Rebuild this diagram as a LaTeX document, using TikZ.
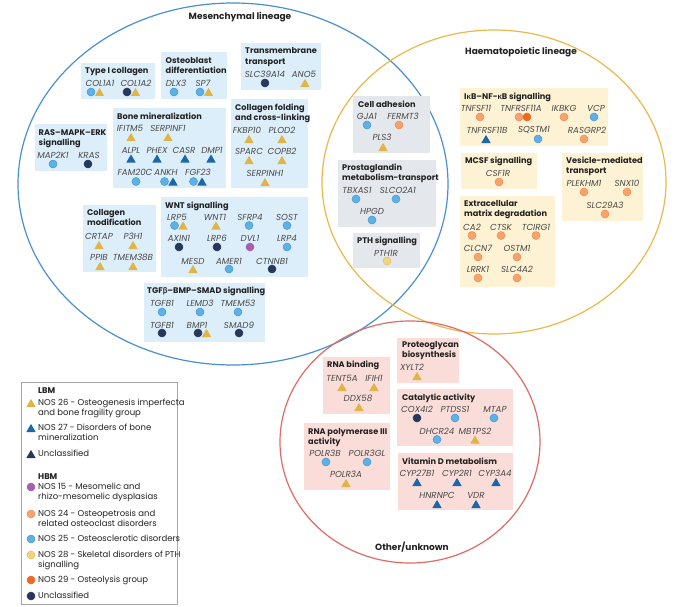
\documentclass[tikz,border=0pt]{standalone}
\usepackage{fontspec}
\setmainfont{Poppins}
\newfontfamily\grk{Lato}
\usetikzlibrary{shapes.geometric,fit}
\definecolor{blueline}{HTML}{4A90D0}
\definecolor{yelline}{HTML}{E9B949}
\definecolor{redline}{HTML}{E06A66}
\definecolor{boxblue}{HTML}{DCEEFA}
\definecolor{boxgray}{HTML}{E4E7EB}
\definecolor{boxyel}{HTML}{FDF2D3}
\definecolor{boxpink}{HTML}{FADDD8}
\definecolor{lbcf}{HTML}{5DB1E6}
\definecolor{lbcd}{HTML}{4398D3}
\definecolor{navyc}{HTML}{26385C}
\definecolor{purplec}{HTML}{A55FAE}
\definecolor{orangef}{HTML}{F7A36B}
\definecolor{oranged}{HTML}{EE8C55}
\definecolor{dorangec}{HTML}{EC6A25}
\definecolor{pyelf}{HTML}{F3D37F}
\definecolor{pyeld}{HTML}{E4BE5A}
\definecolor{ytric}{HTML}{E1B545}
\definecolor{btric}{HTML}{1B67A9}
\definecolor{ntric}{HTML}{27395C}
\definecolor{genec}{HTML}{4A4A4A}
\definecolor{ttlc}{HTML}{222222}
\newcounter{nn}
\newcommand\gb{{\grk β}}
\newcommand\gk{{\grk κ}}
\newcommand\Gn[3]{\stepcounter{nn}\node[gene] (g\arabic{nn}) at (#2,#3) {#1};}
\newcommand\Mk[3]{\stepcounter{nn}\node[#1] (m\arabic{nn}) at (#2,#3) {};}
\newcommand\Tt[4]{\node[ttl] (#1) at (#2,{#3-4.6}) {\strut #4};}
\newcommand\Lg[3]{\stepcounter{nn}\node[legt] (l\arabic{nn}) at (#1,{#2-4.3}) {\strut #3};}
\tikzset{
  gene/.style={font=\itshape\fontsize{8.7}{9}\selectfont, text=genec, inner sep=0},
  ttl/.style={font=\bfseries\fontsize{8.2}{10.7}\selectfont, text=ttlc, inner sep=0, anchor=north west, align=left},
  legt/.style={font=\fontsize{8.5}{10}\selectfont, text=ttlc, inner sep=0, anchor=north west, align=left},
  lin/.style={font=\bfseries\fontsize{9}{11}\selectfont, text=ttlc, inner sep=0},
  bx/.style={inner sep=0, draw=none},
  bb/.style={bx, fill=boxblue},
  bg/.style={bx, fill=boxgray},
  by/.style={bx, fill=boxyel},
  bp/.style={bx, fill=boxpink},
  dot/.style={circle, inner sep=0, minimum size=8pt, line width=0.5pt},
  lbc/.style={dot, fill=lbcf, draw=lbcd},
  nvc/.style={dot, fill=navyc, draw=navyc},
  ppc/.style={dot, fill=purplec, draw=purplec},
  orc/.style={dot, fill=orangef, draw=oranged},
  doc/.style={dot, fill=dorangec, draw=dorangec},
  pyc/.style={dot, fill=pyelf, draw=pyeld},
  tri/.style={regular polygon, regular polygon sides=3, minimum size=10.8pt, inner sep=0, yshift=-1.3pt},
  ytr/.style={tri, fill=ytric},
  btr/.style={tri, fill=btric},
  ntr/.style={tri, fill=ntric},
}
\begin{document}
\begin{tikzpicture}[x=1pt,y=-1pt]
\useasboundingbox[fill=white] (0,0) rectangle (685,607);
% lineage ellipses
\draw[blueline, line width=1.2pt] (233,184) ellipse [x radius=215, y radius=181];
\draw[yelline, line width=1.2pt] (494,182) ellipse [x radius=172, y radius=152];
\draw[redline, line width=1.2pt] (410,442) ellipse [x radius=130, y radius=121];
\node[lin] (mesl) at (240,17) {Mesenchymal lineage};
\node[lin] (haeml) at (521,52) {Haematopoietic lineage};
\node[lin] (othl) at (412,547) {Other/unknown};

% ---------- Mesenchymal boxes ----------
\node[bb, fit={(81,63) (155,99)}] (b1) {};
\Tt{t1}{85}{70.7}{Type I collagen}
\Gn{COL1A1}{100}{83} \Mk{lbc}{91}{92} \Mk{ytr}{99.5}{92}
\Gn{COL1A2}{136}{83} \Mk{nvc}{127}{92} \Mk{ytr}{135.5}{92}

\node[bb, fit={(161,52) (227,99)}] (b2) {};
\Tt{t2}{165.5}{60}{Osteoblast\\differentiation}
\Gn{DLX3}{176}{83} \Mk{lbc}{174}{92}
\Gn{SP7}{203}{83} \Mk{lbc}{200}{92} \Mk{ytr}{208.5}{92}

\node[bb, fit={(241,43) (321,90)}] (b3) {};
\Tt{t3}{245}{50.7}{Transmembrane\\transport}
\Gn{SLC39A14}{265}{74} \Mk{nvc}{265}{83}
\Gn{ANO5}{304}{74} \Mk{ytr}{305}{83}

\node[bb, fit={(35,124) (107,171)}] (b4) {};
\Tt{t4}{38.5}{132}{RAS–MAPK–ERK\\signalling}
\Gn{MAP2K1}{53}{155} \Mk{lbc}{53}{164}
\Gn{KRAS}{89}{155} \Mk{nvc}{88}{164}

\node[bb, fit={(113,108) (226,188)}] (b5) {};
\Tt{t5}{117}{116}{Bone mineralization}
\Gn{IFITM5}{130}{128} \Mk{ytr}{131}{137}
\Gn{SERPINF1}{168}{128} \Mk{ytr}{168}{137}
\Gn{ALPL}{131}{150} \Mk{btr}{131}{158.5}
\Gn{PHEX}{157}{150} \Mk{btr}{157}{158.5}
\Gn{CASR}{184}{150} \Mk{btr}{185}{158.5}
\Gn{DMP1}{212}{150} \Mk{btr}{211}{158.5}
\Gn{FAM20C}{135}{172.5} \Mk{lbc}{136}{181.5}
\Gn{ANKH}{166}{172.5} \Mk{lbc}{164.5}{181.5} \Mk{btr}{173}{181.5}
\Gn{FGF23}{198}{172.5} \Mk{lbc}{193.5}{181.5} \Mk{btr}{202}{181.5}

\node[bb, fit={(231,99) (308,188)}] (b6) {};
\Tt{t6}{235}{107}{Collagen folding\\and cross-linking}
\Gn{FKBP10}{247}{130} \Mk{ytr}{249}{139}
\Gn{PLOD2}{282}{130} \Mk{ytr}{282}{139}
\Gn{SPARC}{249}{151} \Mk{ytr}{249}{160}
\Gn{COPB2}{282}{151} \Mk{ytr}{282}{160}
\Gn{SERPINH1}{265}{173} \Mk{ytr}{265}{182}

\node[bb, fit={(83,205) (156,272)}] (b7) {};
\Tt{t7}{87}{212}{Collagen\\modification}
\Gn{CRTAP}{99}{236} \Mk{ytr}{99}{245}
\Gn{P3H1}{133}{236} \Mk{ytr}{133}{245}
\Gn{PPIB}{99}{257} \Mk{ytr}{100}{266}
\Gn{TMEM38B}{133}{257} \Mk{ytr}{133}{266}

\node[bb, fit={(161,197) (308,277)}] (b8) {};
\Tt{t8}{165}{205}{WNT signalling}
\Gn{LRP5}{177}{217} \Mk{lbc}{174.5}{225.5} \Mk{ytr}{183}{225.5}
\Gn{WNT1}{215}{217} \Mk{ytr}{216}{225.5}
\Gn{SFRP4}{250}{217} \Mk{lbc}{249}{225.5}
\Gn{SOST}{287}{217} \Mk{lbc}{287}{225.5}
\Gn{AXIN1}{179}{238.5} \Mk{nvc}{179}{247}
\Gn{LRP6}{217}{238.5} \Mk{nvc}{217}{247}
\Gn{DVL1}{250}{238.5} \Mk{ppc}{250}{247}
\Gn{LRP4}{287}{238.5} \Mk{lbc}{287}{247}
\Gn{MESD}{193}{261} \Mk{ytr}{193}{269}
\Gn{AMER1}{229}{261} \Mk{lbc}{229}{269}
\Gn{CTNNB1}{272}{261} \Mk{nvc}{272}{269}

\node[bb, fit={(144,283) (265,342)}] (b9) {};
\Tt{t9}{147}{290}{TGF\gb–BMP–SMAD signalling}
\Gn{TGFB1}{162}{303} \Mk{lbc}{162}{312}
\Gn{LEMD3}{200}{303} \Mk{lbc}{200}{312}
\Gn{TMEM53}{238}{303} \Mk{lbc}{238}{312}
\Gn{TGFB1}{162}{325} \Mk{nvc}{162}{333}
\Gn{BMP1}{197}{325} \Mk{nvc}{198}{333} \Mk{ytr}{206.5}{333}
\Gn{SMAD9}{239}{325} \Mk{nvc}{239}{333}

% ---------- Shared (grey) boxes ----------
\node[bg, fit={(353,96) (430,153)}] (b10) {};
\Tt{t10}{358}{104}{Cell adhesion}
\Gn{GJA1}{367}{116} \Mk{lbc}{367}{125}
\Gn{FERMT3}{403}{116} \Mk{orc}{399}{125}
\Gn{PLS3}{382}{137} \Mk{ytr}{383}{147}

\node[bg, fit={(338,160) (436,227)}] (b11) {};
\Tt{t11}{342}{167}{Prostaglandin\\metabolism-transport}
\Gn{TBXAS1}{357}{190} \Mk{lbc}{356}{199}
\Gn{SLCO2A1}{398}{190} \Mk{lbc}{396}{199}
\Gn{HPGD}{372}{211} \Mk{lbc}{372}{220}

\node[bg, fit={(353,233) (420,268)}] (b12) {};
\Tt{t12}{357}{240}{PTH signalling}
\Gn{PTH1R}{386}{253} \Mk{pyc}{387}{261}

% ---------- Haematopoietic boxes ----------
\node[by, fit={(460,88) (608,146)}] (b13) {};
\Tt{t13}{464}{96}{I\gk B–NF-\gk B signalling}
\Gn{TNFSF11}{476}{108} \Mk{orc}{480}{117}
\Gn{TNFRSF11A}{521}{108} \Mk{orc}{519}{117} \Mk{doc}{527}{117}
\Gn{IKBKG}{564}{108} \Mk{orc}{564}{117}
\Gn{VCP}{596}{108} \Mk{lbc}{594}{117}
\Gn{TNFRSF11B}{487}{130} \Mk{btr}{486}{139}
\Gn{SQSTM1}{534}{130} \Mk{lbc}{538}{139}
\Gn{RASGRP2}{587}{130} \Mk{orc}{584}{139}

\node[by, fit={(461,153) (537,189)}] (b14) {};
\Tt{t14}{465}{160}{MCSF signalling}
\Gn{CSF1R}{498}{173} \Mk{orc}{499}{182}

\node[by, fit={(562,153) (643,221)}] (b15) {};
\Tt{t15}{566}{160}{Vesicle-mediated\\transport}
\Gn{PLEKHM1}{584}{183} \Mk{orc}{584}{192}
\Gn{SNX10}{627}{183} \Mk{orc}{627}{192}
\Gn{SLC29A3}{605}{205} \Mk{orc}{605}{214}

\node[by, fit={(460,196) (555,287)}] (b16) {};
\Tt{t16}{464}{203}{Extracellular\\matrix degradation}
\Gn{CA2}{472}{227} \Mk{orc}{472}{235.5}
\Gn{CTSK}{501}{227} \Mk{orc}{501}{235.5}
\Gn{TCIRG1}{536}{227} \Mk{orc}{536}{235.5}
\Gn{CLCN7}{478}{248} \Mk{orc}{478}{257}
\Gn{OSTM1}{517}{248} \Mk{orc}{517}{257}
\Gn{LRRK1}{478}{269} \Mk{orc}{478}{278}
\Gn{SLC4A2}{517}{269} \Mk{orc}{517}{278}

% ---------- Other/unknown boxes ----------
\node[bp, fit={(323,357) (390,414)}] (b17) {};
\Tt{t17}{327}{364}{RNA binding}
\Gn{TENT5A}{342}{378} \Mk{ytr}{342}{387}
\Gn{IFIH1}{374}{378} \Mk{ytr}{374}{387}
\Gn{DDX58}{358}{398} \Mk{ytr}{359}{407}

\node[bp, fit={(397,338) (459,383)}] (b18) {};
\Tt{t18}{402}{344}{Proteoglycan\\biosynthesis}
\Gn{XYLT2}{412}{367} \Mk{ytr}{417}{376}

\node[bp, fit={(397,389) (513,446)}] (b19) {};
\Tt{t19}{402}{397}{Catalytic activity}
\Gn{COX4I2}{417}{409} \Mk{nvc}{417}{418}
\Gn{PTDSS1}{455}{409} \Mk{lbc}{455}{418}
\Gn{MTAP}{495}{409} \Mk{lbc}{494}{418}
\Gn{DHCR24}{437}{431} \Mk{lbc}{437}{439.5}
\Gn{MBTPS2}{475}{431} \Mk{ytr}{475}{439.5}

\node[bp, fit={(304,423) (390,490)}] (b20) {};
\Tt{t20}{308}{431}{RNA polymerase III\\activity}
\Gn{POLR3B}{325}{453} \Mk{lbc}{326}{462}
\Gn{POLR3GL}{367}{453} \Mk{lbc}{367}{462}
\Gn{POLR3A}{346}{474} \Mk{ytr}{346}{483}

\node[bp, fit={(398,453) (513,510)}] (b21) {};
\Tt{t21}{402}{461}{Vitamin D metabolism}
\Gn{CYP27B1}{417}{473} \Mk{btr}{417}{482}
\Gn{CYP2R1}{457}{473} \Mk{btr}{457}{482}
\Gn{CYP3A4}{495}{473} \Mk{btr}{496}{482}
\Gn{HNRNPC}{437}{495} \Mk{btr}{437}{504}
\Gn{VDR}{476}{495} \Mk{btr}{476}{504}

% ---------- Legend ----------
\node[draw=gray!70, line width=0.8pt, fill=white, inner sep=0, fit={(21,382) (177,604)}] (leg) {};
\node[legt, font=\bfseries\fontsize{8.3}{10}\selectfont] (lbm) at (38,{391-4.3}) {\strut LBM};
\Mk{ytr}{31}{403} \Lg{38}{403}{NOS 26 - Osteogenesis imperfecta\\and bone fragility group}
\Mk{btr}{31}{428} \Lg{38}{428}{NOS 27 - Disorders of bone\\mineralization}
\Mk{ntr}{31}{454} \Lg{38}{454}{Unclassified}
\node[legt, font=\bfseries\fontsize{8.3}{10}\selectfont] (hbm) at (38,{477-4.3}) {\strut HBM};
\Mk{ppc}{31}{487} \Lg{38}{487}{NOS 15 - Mesomelic and\\rhizo-mesomelic dysplasias}
\Mk{orc}{31}{514} \Lg{38}{514}{NOS 24 - Osteopetrosis and\\related osteoclast disorders}
\Mk{lbc}{31}{539} \Lg{38}{539}{NOS 25 - Osteosclerotic disorders}
\Mk{pyc}{31}{555} \Lg{38}{555}{NOS 28 - Skeletal disorders of PTH\\signalling}
\Mk{doc}{31}{580} \Lg{38}{580}{NOS 29 - Osteolysis group}
\Mk{nvc}{31}{596} \Lg{38}{596}{Unclassified}
\end{tikzpicture}
\end{document}
